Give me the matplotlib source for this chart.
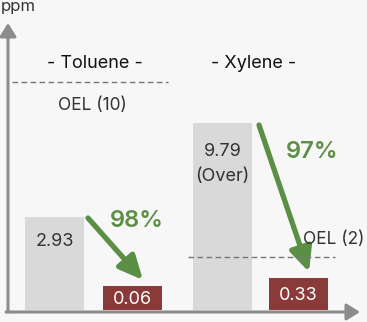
import matplotlib.pyplot as plt
from matplotlib.patches import FancyArrowPatch

# visual bar heights (drawn in canvas units, chart is schematic)
groups = ["- Toluene -", "- Xylene -"]
before_height = [93, 187]
after_height = [24, 32]
before_label = ["2.93", "9.79\n(Over)"]
after_label = ["0.06", "0.33"]
reduction = ["98%", "97%"]
oel_label = ["OEL (10)", "OEL (2)"]
oel_level = [228, 53]

GRAY = "#d9d9d9"
RED = "#8b3a3a"
GREEN = "#5b8f45"
BG = "#f7f7f7"

plt.rcParams['font.family'] = ['Inter', 'DejaVu Sans']

fig = plt.figure(figsize=(3.67, 3.22), dpi=100, facecolor=BG)
ax = fig.add_axes([0, 0, 1, 1])
ax.set_facecolor(BG)
ax.set_xlim(0, 367)
ax.set_ylim(-12, 310)
ax.axis("off")

before_x = [54.5, 222.5]
after_x = [132.5, 298.5]
ax.bar(before_x, before_height, width=59, color=GRAY)
ax.bar(after_x, after_height, width=59, color=RED)

# axes arrows
head = "-|>,head_width=0.5,head_length=0.8"
ax.annotate("", xy=(8, 287), xytext=(8, -2),
            arrowprops=dict(arrowstyle=head, color="#8c8c8c", lw=2.2, shrinkA=0, shrinkB=0))
ax.annotate("", xy=(360, -2), xytext=(6, -2),
            arrowprops=dict(arrowstyle=head, color="#8c8c8c", lw=2.2, shrinkA=0, shrinkB=0))
ax.text(1, 311, "ppm", fontsize=12, color="#333333", ha="left", va="top")

# group titles
ax.text(95, 247, groups[0], fontsize=13, ha="center", va="center", color="#111111")
ax.text(254, 247, groups[1], fontsize=13, ha="center", va="center", color="#111111")

# OEL lines
ax.plot([12, 168], [oel_level[0]] * 2, ls=(0, (4, 2.5)), color="#777777", lw=1)
ax.text(92, 205, oel_label[0], fontsize=12.5, ha="center", va="center", color="#333333")
ax.plot([188, 335], [oel_level[1]] * 2, ls=(0, (4, 2.5)), color="#777777", lw=1)
ax.text(334, 70, oel_label[1], fontsize=12.5, ha="center", va="center", color="#333333")

# bar labels
ax.text(before_x[0], 68, before_label[0], fontsize=13, ha="center", va="center", color="#333333")
ax.text(before_x[1], 146, before_label[1], fontsize=13, ha="center", va="center",
        color="#333333", linespacing=1.65)
for x, h, lab in zip(after_x, after_height, after_label):
    ax.text(x, h / 2 - 1, lab, fontsize=13, ha="center", va="center", color="white")

# reduction arrows
arrows = [((88, 92), (143, 30)), ((259, 185), (309, 38))]
for (p0, p1) in arrows:
    ax.add_patch(FancyArrowPatch(p0, p1, arrowstyle="-|>,head_width=4.2,head_length=9",
                                 mutation_scale=1.6, color=GREEN, lw=3.8, shrinkA=0, shrinkB=0))
ax.text(137, 89, reduction[0], fontsize=17, fontweight="semibold", ha="center", va="center", color=GREEN)
ax.text(312, 158, reduction[1], fontsize=17, fontweight="semibold", ha="center", va="center", color=GREEN)

fig.savefig("out.png", dpi=100, facecolor=BG)
